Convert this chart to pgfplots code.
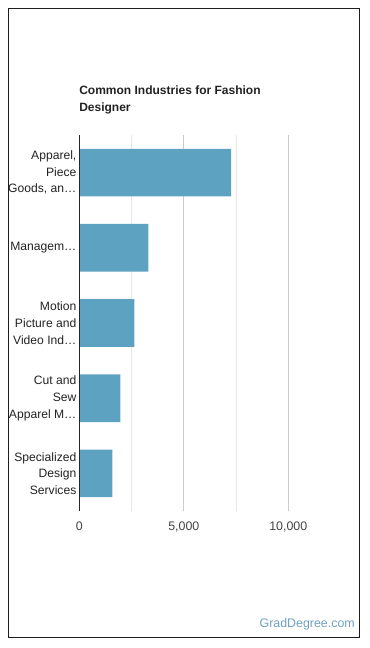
\documentclass[border=0pt]{standalone}
\usepackage{fontspec}
\setmainfont{Liberation Sans}
\usepackage{pgfplots}
\pgfplotsset{compat=1.18}
\definecolor{barblue}{RGB}{93,163,193}
\definecolor{framegray}{RGB}{30,30,30}
\definecolor{ticktext}{RGB}{68,68,68}
\definecolor{labeltext}{RGB}{34,34,34}
\definecolor{majgrid}{RGB}{204,204,204}
\definecolor{mingrid}{RGB}{232,232,232}
\definecolor{brand}{RGB}{112,160,190}

\begin{document}
\begin{tikzpicture}[x=0.75pt,y=0.75pt]
% canvas and outer frame (units: pixels, y measured upward)
\path[use as bounding box] (0,0) rectangle (370,648);
\draw[framegray, line width=0.75pt] (8.5,10.5) rectangle (359.5,639.5);

\begin{axis}[
  at={(59.475pt,102.75pt)}, anchor=south west,
  scale only axis, width=156.75pt, height=282pt,
  xbar, bar width=0.634,
  xmin=0, xmax=10000, ymin=-0.5, ymax=4.5, y dir=reverse,
  axis line style={draw=none},
  xtick={0,5000,10000}, minor x tick num=1,
  xmajorgrids, xminorgrids,
  major grid style={majgrid, line width=0.75pt},
  minor grid style={mingrid, line width=0.75pt},
  major tick length=0pt, minor tick length=0pt,
  scaled x ticks=false,
  /pgf/number format/.cd, 1000 sep={,}, assume math mode=true, /pgfplots/.cd,
  xticklabel style={font=\fontsize{9.3}{12}\selectfont, text=ticktext, inner sep=0pt, anchor=north, yshift=-8.25pt},
  ytick={0,1,2,3,4},
  yticklabels={{Apparel,\\Piece\\Goods, an\ldots},{Managem\ldots},{Motion\\Picture and\\Video Ind\ldots},{Cut and\\Sew\\Apparel M\ldots},{Specialized\\Design\\Services}},
  yticklabel style={font=\fontsize{9.1}{12.5}\selectfont, text=labeltext, align=right, inner sep=0pt, anchor=east, xshift=-2pt},
  clip=false,
]
\addplot[fill=barblue, draw=none] coordinates {
  (7270,0) (3300,1) (2630,2) (1960,3) (1580,4)
};
% baseline at zero
\draw[black!85, line width=0.75pt] (axis cs:0,-0.5) -- (axis cs:0,4.5);
\end{axis}

% chart title
\node[anchor=base west, inner sep=0pt, font=\fontsize{9}{12}\selectfont\bfseries, text=labeltext] at (79,553) {Common Industries for Fashion};
\node[anchor=base west, inner sep=0pt, font=\fontsize{9}{12}\selectfont\bfseries, text=labeltext] at (79,536.3) {Designer};

% site credit
\node[anchor=base east, inner sep=0pt, font=\fontsize{9.3}{12}\selectfont, text=brand] at (355,20) {GradDegree.com};
\end{tikzpicture}
\end{document}
